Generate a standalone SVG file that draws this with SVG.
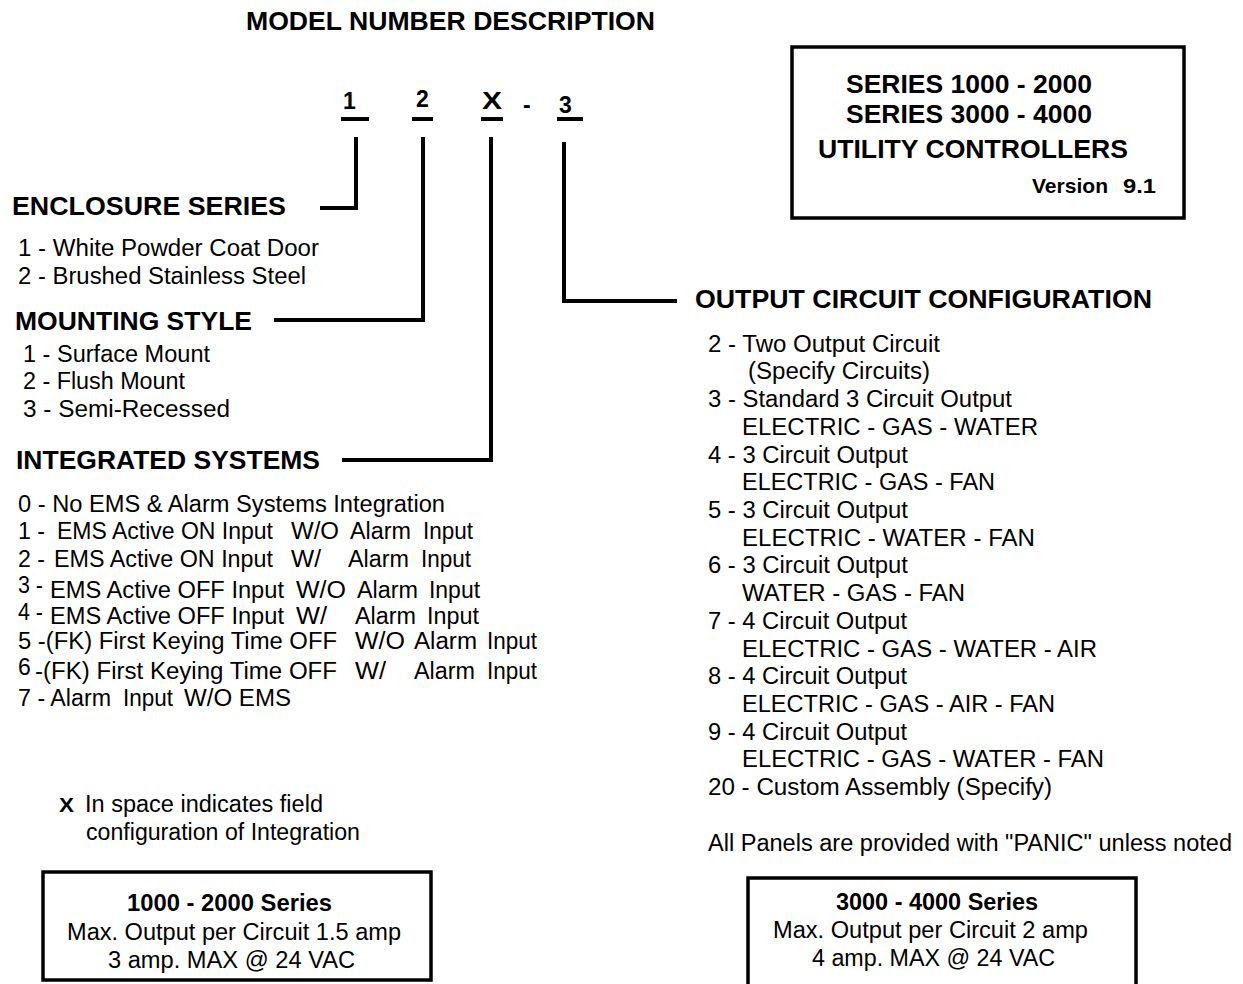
<svg xmlns="http://www.w3.org/2000/svg" width="1243" height="984" viewBox="0 0 1243 984">
<style>
text{font-family:"Liberation Sans",Arial,Helvetica,sans-serif;fill:#000}
.b{font-weight:bold;font-size:25px}
.d{font-weight:bold;font-size:23px}
.v{font-weight:bold;font-size:21px}
.r{font-size:23px}
.s{font-size:23px}
.ln{fill:none;stroke:#000;stroke-width:4}
.box{fill:none;stroke:#000;stroke-width:3.5}
</style>
<rect width="1243" height="984" fill="#fff"/>
<g id="title">
<text class="b" x="246" y="30" textLength="409" lengthAdjust="spacingAndGlyphs">MODEL NUMBER DESCRIPTION</text>
</g>
<g id="model-number">
<text class="d" x="343" y="109">1</text>
<text class="d" x="416" y="107">2</text>
<text class="d" x="482" y="109" textLength="20" lengthAdjust="spacingAndGlyphs">X</text>
<text class="d" x="523" y="113">-</text>
<text class="d" x="559" y="113">3</text>
<path class="ln" d="M341,119H369M412,119H433M481,119H503M557,119H583"/>
</g>
<g id="series-box">
<rect class="box" x="792" y="47" width="392" height="171"/>
<text class="b" x="846" y="93" textLength="246" lengthAdjust="spacingAndGlyphs">SERIES 1000 - 2000</text>
<text class="b" x="846" y="123" textLength="246" lengthAdjust="spacingAndGlyphs">SERIES 3000 - 4000</text>
<text class="b" x="818" y="158" textLength="310" lengthAdjust="spacingAndGlyphs">UTILITY CONTROLLERS</text>
<text class="v" x="1032" y="193" textLength="76" lengthAdjust="spacingAndGlyphs">Version</text>
<text class="v" x="1123" y="193" textLength="33" lengthAdjust="spacingAndGlyphs">9.1</text>
</g>
<g id="connectors">
<path class="ln" d="M320,208H356V137"/>
<path class="ln" d="M274,320H423V137"/>
<path class="ln" d="M342,460H491V137"/>
<path class="ln" d="M677,301H564V142"/>
</g>
<g id="enclosure-series">
<text class="b" x="12" y="215" textLength="274" lengthAdjust="spacingAndGlyphs">ENCLOSURE SERIES</text>
<text class="s" x="18" y="256" textLength="301" lengthAdjust="spacingAndGlyphs">1 - White Powder Coat Door</text>
<text class="s" x="18" y="284" textLength="288" lengthAdjust="spacingAndGlyphs">2 - Brushed Stainless Steel</text>
</g>
<g id="mounting-style">
<text class="b" x="15" y="330" textLength="237" lengthAdjust="spacingAndGlyphs">MOUNTING STYLE</text>
<text class="r" x="23" y="362" textLength="187" lengthAdjust="spacingAndGlyphs">1 - Surface Mount</text>
<text class="r" x="23" y="389" textLength="162" lengthAdjust="spacingAndGlyphs">2 - Flush Mount</text>
<text class="r" x="23" y="417" textLength="207" lengthAdjust="spacingAndGlyphs">3 - Semi-Recessed</text>
</g>
<g id="integrated-systems">
<text class="b" x="16" y="469" textLength="304" lengthAdjust="spacingAndGlyphs">INTEGRATED SYSTEMS</text>
<text class="r" x="18" y="512" textLength="427" lengthAdjust="spacingAndGlyphs">0 - No EMS &amp; Alarm Systems Integration</text>
<text class="r" x="18" y="539" textLength="27" lengthAdjust="spacingAndGlyphs">1 -</text>
<text class="r" x="57" y="539" textLength="216" lengthAdjust="spacingAndGlyphs">EMS Active ON Input</text>
<text class="r" x="291" y="539" textLength="48" lengthAdjust="spacingAndGlyphs">W/O</text>
<text class="r" x="350" y="539" textLength="61" lengthAdjust="spacingAndGlyphs">Alarm</text>
<text class="r" x="423" y="539" textLength="50" lengthAdjust="spacingAndGlyphs">Input</text>
<text class="r" x="18" y="567" textLength="27" lengthAdjust="spacingAndGlyphs">2 -</text>
<text class="r" x="54" y="567" textLength="219" lengthAdjust="spacingAndGlyphs">EMS Active ON Input</text>
<text class="r" x="291" y="567" textLength="30" lengthAdjust="spacingAndGlyphs">W/</text>
<text class="r" x="348" y="567" textLength="61" lengthAdjust="spacingAndGlyphs">Alarm</text>
<text class="r" x="421" y="567" textLength="50" lengthAdjust="spacingAndGlyphs">Input</text>
<text class="r" x="18" y="593" textLength="25" lengthAdjust="spacingAndGlyphs">3 -</text>
<text class="r" x="50" y="598" textLength="234" lengthAdjust="spacingAndGlyphs">EMS Active OFF Input</text>
<text class="r" x="296" y="598" textLength="50" lengthAdjust="spacingAndGlyphs">W/O</text>
<text class="r" x="357" y="598" textLength="61" lengthAdjust="spacingAndGlyphs">Alarm</text>
<text class="r" x="429" y="598" textLength="51" lengthAdjust="spacingAndGlyphs">Input</text>
<text class="r" x="18" y="620" textLength="25" lengthAdjust="spacingAndGlyphs">4 -</text>
<text class="r" x="50" y="624" textLength="234" lengthAdjust="spacingAndGlyphs">EMS Active OFF Input</text>
<text class="r" x="296" y="624" textLength="31" lengthAdjust="spacingAndGlyphs">W/</text>
<text class="r" x="355" y="624" textLength="61" lengthAdjust="spacingAndGlyphs">Alarm</text>
<text class="r" x="427" y="624" textLength="52" lengthAdjust="spacingAndGlyphs">Input</text>
<text class="r" x="18" y="649" textLength="319" lengthAdjust="spacingAndGlyphs">5 -(FK) First Keying Time OFF</text>
<text class="r" x="355" y="649" textLength="50" lengthAdjust="spacingAndGlyphs">W/O</text>
<text class="r" x="414" y="649" textLength="63" lengthAdjust="spacingAndGlyphs">Alarm</text>
<text class="r" x="487" y="649" textLength="50" lengthAdjust="spacingAndGlyphs">Input</text>
<text class="r" x="18" y="675">6</text>
<text class="r" x="35" y="679" textLength="302" lengthAdjust="spacingAndGlyphs">-(FK) First Keying Time OFF</text>
<text class="r" x="355" y="679" textLength="31" lengthAdjust="spacingAndGlyphs">W/</text>
<text class="r" x="414" y="679" textLength="61" lengthAdjust="spacingAndGlyphs">Alarm</text>
<text class="r" x="487" y="679" textLength="50" lengthAdjust="spacingAndGlyphs">Input</text>
<text class="r" x="18" y="706" textLength="93" lengthAdjust="spacingAndGlyphs">7 - Alarm</text>
<text class="r" x="123" y="706" textLength="50" lengthAdjust="spacingAndGlyphs">Input</text>
<text class="r" x="184" y="706" textLength="107" lengthAdjust="spacingAndGlyphs">W/O EMS</text>
</g>
<g id="output-circuit-configuration">
<text class="b" x="695" y="308" textLength="457" lengthAdjust="spacingAndGlyphs">OUTPUT CIRCUIT CONFIGURATION</text>
<text class="r" x="708" y="352" textLength="232" lengthAdjust="spacingAndGlyphs">2 - Two Output Circuit</text>
<text class="r" x="748" y="379" textLength="182" lengthAdjust="spacingAndGlyphs">(Specify Circuits)</text>
<text class="r" x="708" y="407" textLength="304" lengthAdjust="spacingAndGlyphs">3 - Standard 3 Circuit Output</text>
<text class="r" x="742" y="435" textLength="296" lengthAdjust="spacingAndGlyphs">ELECTRIC - GAS - WATER</text>
<text class="r" x="708" y="463" textLength="200" lengthAdjust="spacingAndGlyphs">4 - 3 Circuit Output</text>
<text class="r" x="742" y="490" textLength="253" lengthAdjust="spacingAndGlyphs">ELECTRIC - GAS - FAN</text>
<text class="r" x="708" y="518" textLength="200" lengthAdjust="spacingAndGlyphs">5 - 3 Circuit Output</text>
<text class="r" x="742" y="546" textLength="293" lengthAdjust="spacingAndGlyphs">ELECTRIC - WATER - FAN</text>
<text class="r" x="708" y="573" textLength="200" lengthAdjust="spacingAndGlyphs">6 - 3 Circuit Output</text>
<text class="r" x="742" y="601" textLength="223" lengthAdjust="spacingAndGlyphs">WATER - GAS - FAN</text>
<text class="r" x="708" y="629" textLength="199" lengthAdjust="spacingAndGlyphs">7 - 4 Circuit Output</text>
<text class="r" x="742" y="657" textLength="355" lengthAdjust="spacingAndGlyphs">ELECTRIC - GAS - WATER - AIR</text>
<text class="r" x="708" y="684" textLength="199" lengthAdjust="spacingAndGlyphs">8 - 4 Circuit Output</text>
<text class="r" x="742" y="712" textLength="313" lengthAdjust="spacingAndGlyphs">ELECTRIC - GAS - AIR - FAN</text>
<text class="r" x="708" y="740" textLength="199" lengthAdjust="spacingAndGlyphs">9 - 4 Circuit Output</text>
<text class="r" x="742" y="767" textLength="362" lengthAdjust="spacingAndGlyphs">ELECTRIC - GAS - WATER - FAN</text>
<text class="r" x="708" y="795" textLength="344" lengthAdjust="spacingAndGlyphs">20 - Custom Assembly (Specify)</text>
<text class="r" x="708" y="851" textLength="524" lengthAdjust="spacingAndGlyphs">All Panels are provided with "PANIC" unless noted</text>
</g>
<g id="x-note">
<text class="v" x="59" y="812" textLength="15" lengthAdjust="spacingAndGlyphs">X</text>
<text class="s" x="85" y="812" textLength="238" lengthAdjust="spacingAndGlyphs">In space indicates field</text>
<text class="s" x="86" y="840" textLength="274" lengthAdjust="spacingAndGlyphs">configuration of Integration</text>
</g>
<g id="series-1000-2000">
<rect class="box" x="43" y="872" width="388" height="108"/>
<text class="d" x="127" y="911" textLength="205" lengthAdjust="spacingAndGlyphs">1000 - 2000 Series</text>
<text class="s" x="67" y="940" textLength="334" lengthAdjust="spacingAndGlyphs">Max. Output per Circuit 1.5 amp</text>
<text class="s" x="108" y="968" textLength="247" lengthAdjust="spacingAndGlyphs">3 amp. MAX @ 24 VAC</text>
</g>
<g id="series-3000-4000">
<rect class="box" x="748" y="878" width="388" height="120"/>
<text class="d" x="836" y="910" textLength="202" lengthAdjust="spacingAndGlyphs">3000 - 4000 Series</text>
<text class="s" x="773" y="938" textLength="315" lengthAdjust="spacingAndGlyphs">Max. Output per Circuit 2 amp</text>
<text class="s" x="812" y="966" textLength="243" lengthAdjust="spacingAndGlyphs">4 amp. MAX @ 24 VAC</text>
</g>
</svg>
